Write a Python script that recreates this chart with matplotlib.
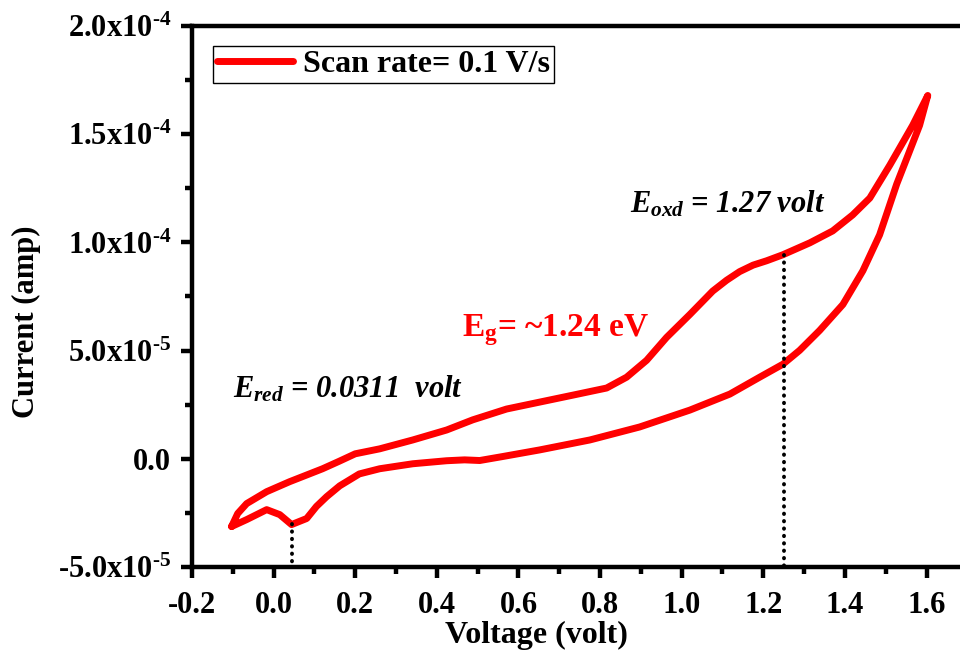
import matplotlib
matplotlib.use('Agg')
import matplotlib.pyplot as plt

plt.rcParams['font.family'] = ['Liberation Serif', 'DejaVu Serif']
plt.rcParams['font.weight'] = 'bold'
plt.rcParams['mathtext.fontset'] = 'custom'
plt.rcParams['mathtext.rm'] = 'Liberation Serif:bold'
plt.rcParams['mathtext.it'] = 'Liberation Serif:italic:bold'
plt.rcParams['mathtext.bf'] = 'Liberation Serif:bold'

# forward scan (upper branch), -0.1 -> 1.6 V
v_fwd = [-0.103, -0.088, -0.066, -0.017, 0.039, 0.120, 0.160, 0.200, 0.260, 0.341, 0.424,
         0.488, 0.571, 0.652, 0.733, 0.816, 0.865, 0.914, 0.963, 1.020, 1.076, 1.110,
         1.142, 1.175, 1.208, 1.248, 1.314, 1.370, 1.419, 1.461, 1.510, 1.566, 1.603]
i_fwd = [-3.13e-5, -2.53e-5, -2.07e-5, -1.52e-5, -1.06e-5, -4.6e-6, -1.2e-6, 2.3e-6, 4.6e-6, 8.7e-6, 1.33e-5,
         1.80e-5, 2.30e-5, 2.62e-5, 2.94e-5, 3.27e-5, 3.77e-5, 4.55e-5, 5.61e-5, 6.67e-5, 7.75e-5, 8.25e-5,
         8.65e-5, 8.95e-5, 9.15e-5, 9.43e-5, 9.98e-5, 1.053e-4, 1.127e-4, 1.205e-4, 1.357e-4, 1.541e-4, 1.679e-4]

# reverse scan (lower branch), 1.6 -> -0.1 V
v_rev = [1.603, 1.583, 1.555, 1.527, 1.485, 1.444, 1.395, 1.338, 1.289, 1.248, 1.191,
         1.118, 1.020, 0.897, 0.775, 0.652, 0.560, 0.505, 0.468, 0.424, 0.341,
         0.260, 0.210, 0.162, 0.130, 0.105, 0.081, 0.044, 0.015, -0.017, -0.066, -0.103]
i_rev = [1.679e-4, 1.541e-4, 1.405e-4, 1.270e-4, 1.035e-4, 8.69e-5, 7.13e-5, 5.93e-5, 5.01e-5, 4.37e-5, 3.77e-5,
         2.99e-5, 2.25e-5, 1.47e-5, 8.7e-6, 4.1e-6, 1.0e-6, -8e-7, -5e-7, -9e-7, -2.3e-6,
         -4.6e-6, -7.0e-6, -1.25e-5, -1.75e-5, -2.20e-5, -2.76e-5, -3.04e-5, -2.58e-5, -2.35e-5, -2.81e-5, -3.13e-5]

# peak markers
e_red_v, e_red_i = 0.044, -3.0e-5
e_oxd_v, e_oxd_i = 1.250, 9.4e-5

xticks = [-0.2, 0.0, 0.2, 0.4, 0.6, 0.8, 1.0, 1.2, 1.4, 1.6]
xticklabels = ['-0.2', '0.0', '0.2', '0.4', '0.6', '0.8', '1.0', '1.2', '1.4', '1.6']
yticks = [-5e-5, 0.0, 5e-5, 1e-4, 1.5e-4, 2e-4]
yticklabels = [r'-$\mathrm{5.0x10}^{\text{-}5}$', '0.0', r'$\mathrm{5.0x10}^{\text{-}5}$',
               r'$\mathrm{1.0x10}^{\text{-}4}$', r'$\mathrm{1.5x10}^{\text{-}4}$', r'$\mathrm{2.0x10}^{\text{-}4}$']

fig = plt.figure(figsize=(9.6, 6.52), dpi=100)
ax = fig.add_axes([0.2, 0.1304, 0.8, 0.8297])

ax.plot(v_fwd + v_rev[1:], i_fwd + i_rev[1:], color='#ff0000', lw=5,
        solid_capstyle='round', solid_joinstyle='round', label='Scan rate= 0.1 V/s')

ax.plot([e_red_v, e_red_v], [e_red_i, -5e-5], color='black', lw=2.8,
        linestyle=(0, (0.1, 1.8)), dash_capstyle='round')
ax.plot([e_oxd_v, e_oxd_v], [e_oxd_i, -5e-5], color='black', lw=2.8,
        linestyle=(0, (0.1, 1.8)), dash_capstyle='round')

ax.text(0.873, 1.136e-4, r'$E_{oxd}$ = 1.27 volt', fontsize=22, fontstyle='italic',
        fontweight='bold', ha='left', va='baseline')
ax.text(-0.100, 2.85e-5, r'$E_{red}$ = 0.0311  volt', fontsize=22, fontstyle='italic',
        fontweight='bold', ha='left', va='baseline')
ax.text(0.461, 5.66e-5, r'$\mathrm{E}_\mathrm{g}$= ~1.24 eV', fontsize=24, color='#ff0000',
        fontweight='bold', ha='left', va='baseline')

ax.set_xlim(-0.2, 1.682)
ax.set_ylim(-5e-5, 2e-4)
ax.set_xticks(xticks)
ax.set_xticklabels(xticklabels)
ax.set_yticks(yticks)
ax.set_yticklabels(yticklabels)
ax.set_xticks([-0.1, 0.1, 0.3, 0.5, 0.7, 0.9, 1.1, 1.3, 1.5], minor=True)
ax.set_yticks([-2.5e-5, 2.5e-5, 7.5e-5, 1.25e-4, 1.75e-4], minor=True)

for s in ['left', 'bottom', 'top']:
    ax.spines[s].set_linewidth(3.2)
ax.spines['right'].set_visible(False)
ax.tick_params(which='major', direction='out', length=8, width=3.2, labelsize=22, pad=7)
ax.tick_params(which='minor', direction='out', length=5, width=3.2)
ax.tick_params(axis='x', which='major', pad=9)
ax.tick_params(top=False, right=False, which='both')

ax.set_xlabel('Voltage (volt)', fontsize=23, fontweight='bold', va='center')
ax.xaxis.set_label_coords(0.449, -0.126)
ax.set_ylabel('Current (amp)', fontsize=22, fontweight='bold', va='center')
ax.yaxis.set_label_coords(-0.215, 0.453)

leg = ax.legend(loc='upper left', bbox_to_anchor=(0.027, 0.963), fontsize=23,
                frameon=True, fancybox=False, edgecolor='black', framealpha=1,
                handlelength=2.4, handletextpad=0.3, borderpad=0.12, borderaxespad=0)
leg.get_frame().set_linewidth(1.0)

fig.savefig('out.png', dpi=100)
